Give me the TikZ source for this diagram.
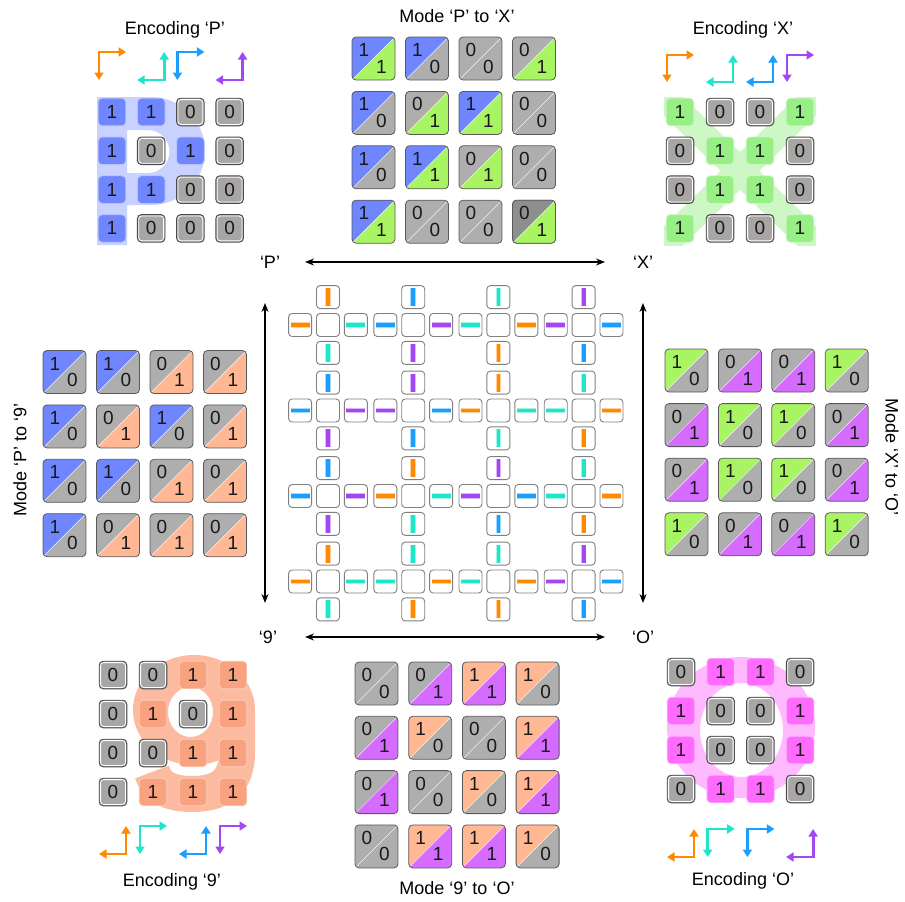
\documentclass[tikz,border=0pt]{standalone}
\usepackage{fontspec}
\setmainfont{Liberation Sans}
\usetikzlibrary{arrows.meta,positioning}

% tile colours
\definecolor{pblue}{HTML}{6F86FF}
\definecolor{pback}{HTML}{C9D1FF}
\definecolor{xgreen}{HTML}{97EF86}
\definecolor{xback}{HTML}{CDF7C4}
\definecolor{ninesal}{HTML}{F9A27F}
\definecolor{nineback}{HTML}{FCBBA0}
\definecolor{opink}{HTML}{FF6AFF}
\definecolor{oback}{HTML}{FFB9FF}
\definecolor{egray}{HTML}{A8A5A5}
\definecolor{mgray}{HTML}{AEAEAE}
\definecolor{mdark}{HTML}{8E8E8E}
\definecolor{mblue}{HTML}{6F86FF}
\definecolor{mgreen}{HTML}{A8F462}
\definecolor{msalmon}{HTML}{FFB893}
\definecolor{mpurple}{HTML}{D56CFF}
% bar colours
\definecolor{barO}{HTML}{FF8A00}
\definecolor{barC}{HTML}{1EE6C8}
\definecolor{barB}{HTML}{1A9EFF}
\definecolor{barP}{HTML}{A347F5}

\tikzset{
  headline/.style={font=\fontsize{18}{20}\selectfont, inner sep=1pt},
  lab/.style={font=\fontsize{18}{20}\selectfont, inner sep=2pt},
  digit/.style={font=\fontsize{19}{20}\selectfont, inner sep=0pt, text=black!90},
  tileedge/.style={draw=black!65, line width=0.8pt},
  zero top/.store in=\zerotop, zero top=mgray,
  cellbox/.style={draw=black!50, line width=0.9pt, fill=white, rounded corners=3.5pt,
    minimum size=23pt, inner sep=0pt},
  vbar/.style={cellbox, path picture={
      \draw[color=#1!40, line width=5.6pt] ([yshift=-9pt]path picture bounding box.center) -- ([yshift=9pt]path picture bounding box.center);
      \draw[color=#1, line width=3.8pt] ([yshift=-9pt]path picture bounding box.center) -- ([yshift=9pt]path picture bounding box.center);}},
  hbar/.style={cellbox, path picture={
      \draw[color=#1!40, line width=5.6pt] ([xshift=-9.5pt]path picture bounding box.center) -- ([xshift=9.5pt]path picture bounding box.center);
      \draw[color=#1, line width=3.8pt] ([xshift=-9.5pt]path picture bounding box.center) -- ([xshift=9.5pt]path picture bounding box.center);}},
  kink/.style={line width=2.9pt, {Triangle[length=7.5pt,width=9pt]}-{Triangle[length=7.5pt,width=9pt]}},
  dblarrow/.style={line width=1.2pt, {Stealth[length=9pt,width=7pt]}-{Stealth[length=9pt,width=7pt]}},
  pics/enctile/.style 2 args={code={
    \ifnum#1=1
      \filldraw[fill=#2, draw=#2!50!white, line width=0.8pt, rounded corners=4pt] (-13.8,-13.8) rectangle (13.8,13.8);
    \else
      \filldraw[fill=egray, draw=black!70, line width=0.9pt, rounded corners=4pt] (-13.8,-13.8) rectangle (13.8,13.8);
      \draw[white, line width=0.8pt, rounded corners=3pt] (-12.4,-12.4) rectangle (12.4,12.4);
    \fi
    \node[digit] at (0,0) {#1};
  }},
  pics/modetile/.style n args={4}{code={
    \ifnum#1=1 \def\tca{#3}\else\def\tca{\zerotop}\fi
    \ifnum#2=1 \def\tcb{#4}\else\def\tcb{mgray}\fi
    \begin{scope}
      \clip[rounded corners=4pt] (-21.5,-21.5) rectangle (21.5,21.5);
      \fill[fill=\tca] (-21.5,21.5) -- (-21.5,-21.5) -- (21.5,-21.5) -- cycle;
      \fill[fill=\tcb] (-21.5,21.5) -- (21.5,21.5) -- (21.5,-21.5) -- cycle;
      \draw[white, opacity=0.8, line width=0.5pt] (-21.5,21.5) -- (21.5,-21.5);
    \end{scope}
    \draw[tileedge, rounded corners=4pt] (-21.5,-21.5) rectangle (21.5,21.5);
    \node[digit] at (-9.5,-8.5) {#1};
    \node[digit] at (8,8) {#2};
  }},
}

\begin{document}
\begin{tikzpicture}[x=1pt, y=-1pt]
\useasboundingbox (0,0) rectangle (905,902);

% titles
\node[headline] (t-encP) at (175,30) {Encoding ‘P’};
\node[headline] (t-PX) at (457,16) {Mode ‘P’ to ‘X’};
\node[headline] (t-encX) at (743,30) {Encoding ‘X’};
\node[headline, rotate=90] (t-P9) at (20,460) {Mode ‘P’ to ‘9’};
\node[headline, rotate=-90] (t-XO) at (892,457) {Mode ‘X’ to ‘O’};
\node[headline] (t-enc9) at (172,882) {Encoding ‘9’};
\node[headline] (t-9O) at (457,888) {Mode ‘9’ to ‘O’};
\node[headline] (t-encO) at (743,881) {Encoding ‘O’};

% encoding P
\fill[pback, even odd rule] (97,97) -- (151,97) arc[start angle=-90, end angle=90, radius=54]
  -- (127,205) -- (127,245) -- (97,245) -- cycle
  (127,130) -- (148,130) arc[start angle=-90, end angle=90, radius=21.5] -- (127,173) -- cycle;
\begin{scope}[shift={(112,112)}]
  \foreach \row [count=\r from 0] in {{1,1,0,0},{1,0,1,0},{1,1,0,0},{1,0,0,0}}
    \foreach \v [count=\c from 0] in \row
      \pic at (39.2*\c, 38.8*\r) {enctile={\v}{pblue}};
  \foreach \col/\kind [count=\c from 0] in {barO/1,barC/0,barB/1,barP/0} {
    \ifnum\kind=1
      \draw[kink, \col] (39.2*\c+14,-60) -- (39.2*\c-13,-60) -- (39.2*\c-13,-32);
    \else
      \draw[kink, \col] (39.2*\c-14,-32) -- (39.2*\c+13,-32) -- (39.2*\c+13,-60);
    \fi
  }
\end{scope}

% encoding X
\begin{scope}
  \clip (664,97) rectangle (816,245);
  \draw[xback, line width=27pt] (664,97) -- (816,245) (816,97) -- (664,245);
\end{scope}
\begin{scope}[shift={(680,112)}]
  \foreach \row [count=\r from 0] in {{1,0,0,1},{0,1,1,0},{0,1,1,0},{1,0,0,1}}
    \foreach \v [count=\c from 0] in \row
      \pic at (40*\c, 38.8*\r) {enctile={\v}{xgreen}};
  \foreach \col/\kind [count=\c from 0] in {barO/1,barC/0,barB/0,barP/1} {
    \ifnum\kind=1
      \draw[kink, \col] (40*\c+14,-57) -- (40*\c-13,-57) -- (40*\c-13,-30);
    \else
      \draw[kink, \col] (40*\c-14,-30) -- (40*\c+13,-30) -- (40*\c+13,-57);
    \fi
  }
\end{scope}

% encoding 9
\fill[nineback, even odd rule] (194,710) ellipse [x radius=61, y radius=55]
  (190.5,712) ellipse [x radius=22.5, y radius=25];
\draw[nineback, line width=36pt] (237,712) -- (237,752) .. controls (237,785) and (218,794) .. (192,794)
  .. controls (168,794) and (156,786) .. (152,772);
\begin{scope}[shift={(113,675)}]
  \foreach \row [count=\r from 0] in {{0,0,1,1},{0,1,0,1},{0,0,1,1},{0,1,1,1}}
    \foreach \v [count=\c from 0] in \row
      \pic at (40*\c, 39*\r) {enctile={\v}{ninesal}};
  \foreach \col/\kind [count=\c from 0] in {barO/0,barC/1,barB/0,barP/1} {
    \ifnum\kind=1
      \draw[kink, \col] (40*\c+14,151) -- (40*\c-13,151) -- (40*\c-13,179);
    \else
      \draw[kink, \col] (40*\c-14,179) -- (40*\c+13,179) -- (40*\c+13,151);
    \fi
  }
\end{scope}

% encoding O
\fill[oback, even odd rule] (741,727.5) ellipse [x radius=74, y radius=70.5]
  (741.5,730) ellipse [x radius=41.5, y radius=47];
\begin{scope}[shift={(681,672)}]
  \foreach \row [count=\r from 0] in {{0,1,1,0},{1,0,0,1},{1,0,0,1},{0,1,1,0}}
    \foreach \v [count=\c from 0] in \row
      \pic at (39.7*\c, 39*\r) {enctile={\v}{opink}};
  \foreach \col/\kind [count=\c from 0] in {barO/0,barC/1,barB/1,barP/0} {
    \ifnum\kind=1
      \draw[kink, \col] (39.7*\c+14,157) -- (39.7*\c-13,157) -- (39.7*\c-13,185);
    \else
      \draw[kink, \col] (39.7*\c-14,185) -- (39.7*\c+13,185) -- (39.7*\c+13,157);
    \fi
  }
\end{scope}

% mode P to X
\begin{scope}[shift={(373.5,58.5)}]
  \foreach \row [count=\r from 0] in {{1/1,1/0,0/0,0/1},{1/0,0/1,1/1,0/0},{1/0,1/1,0/1,0/0},{1/1,0/0,0/0,0/1}}
    \foreach \a/\b [count=\c from 0] in \row
      \pic at (53.5*\c, 54.4*\r) {modetile={\a}{\b}{mblue}{mgreen}};
  \pic[zero top=mdark] at (53.5*3, 54.4*3) {modetile={0}{1}{mblue}{mgreen}};
\end{scope}

% mode P to 9
\begin{scope}[shift={(64.5,372)}]
  \foreach \row [count=\r from 0] in {{1/0,1/0,0/1,0/1},{1/0,0/1,1/0,0/1},{1/0,1/0,0/1,0/1},{1/0,0/1,0/1,0/1}}
    \foreach \a/\b [count=\c from 0] in \row
      \pic at (53.5*\c, 54.4*\r) {modetile={\a}{\b}{mblue}{msalmon}};
\end{scope}

% mode X to O
\begin{scope}[shift={(686.5,370.5)}]
  \foreach \row [count=\r from 0] in {{1/0,0/1,0/1,1/0},{0/1,1/0,1/0,0/1},{0/1,1/0,1/0,0/1},{1/0,0/1,0/1,1/0}}
    \foreach \a/\b [count=\c from 0] in \row
      \pic at (53.4*\c, 54.6*\r) {modetile={\a}{\b}{mgreen}{mpurple}};
\end{scope}

% mode 9 to O
\begin{scope}[shift={(376.5,683.5)}]
  \foreach \row [count=\r from 0] in {{0/0,0/1,1/1,1/0},{0/1,1/0,0/0,1/1},{0/1,0/0,1/0,1/1},{0/0,1/1,1/1,1/0}}
    \foreach \a/\b [count=\c from 0] in \row
      \pic at (53.7*\c, 54.3*\r) {modetile={\a}{\b}{msalmon}{mpurple}};
\end{scope}

% centre cells
\foreach \row [count=\r from 0] in {{barO/barC,barB/barP,barC/barO,barP/barB},{barB/barP,barP/barB,barO/barC,barC/barO},{barB/barP,barO/barC,barP/barB,barC/barO},{barO/barC,barC/barO,barC/barO,barP/barB}}
  \foreach \ca/\cb [count=\c from 0] in \row {
    \node[cellbox] (cell-\r-\c) at (328+85.2*\c, 325+85.5*\r) {};
    \node[vbar=\ca, above=4pt of cell-\r-\c] (cell-\r-\c-t) {};
    \node[hbar=\ca, left=4pt of cell-\r-\c] (cell-\r-\c-l) {};
    \node[hbar=\cb, right=4pt of cell-\r-\c] (cell-\r-\c-r) {};
    \node[vbar=\cb, below=4pt of cell-\r-\c] (cell-\r-\c-b) {};
  }

% corner labels and arrows
\node[lab] (labP) at (270,262) {‘P’};
\node[lab] (labX) at (643,262) {‘X’};
\node[lab] (lab9) at (268,637) {‘9’};
\node[lab] (labO) at (643,637) {‘O’};
\draw[dblarrow, shorten <=35pt, shorten >=38pt] (labP.center) -- (labX.center);
\draw[dblarrow, shorten <=37pt, shorten >=38pt] (lab9.center) -- (labO.center);
\draw[dblarrow, shorten <=41pt, shorten >=34pt] ([xshift=-5pt]labP.center) -- ([xshift=-3pt]lab9.center);
\draw[dblarrow, shorten <=41pt, shorten >=34pt] (labX.center) -- (labO.center);
\end{tikzpicture}
\end{document}
